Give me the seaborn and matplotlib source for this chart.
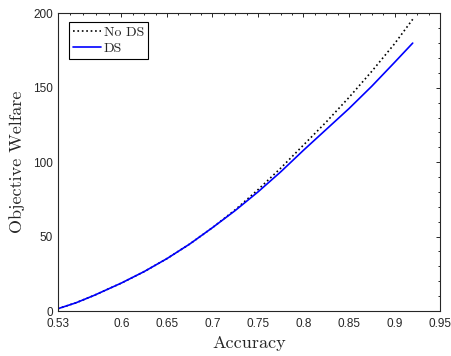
import numpy as np
import pandas as pd
import matplotlib
matplotlib.use("Agg")
import matplotlib.pyplot as plt
import seaborn as sns
from matplotlib.ticker import FixedLocator, MultipleLocator

# values
accuracy = [0.53, 0.55, 0.57, 0.60, 0.625, 0.65, 0.675, 0.70, 0.725, 0.75,
            0.775, 0.80, 0.825, 0.85, 0.875, 0.90, 0.92]
welfare_no_ds = [1.5, 5.5, 10.5, 18.8, 26.5, 35.2, 45.0, 56.0, 68.0, 81.5,
                 96.0, 111.5, 127.0, 143.5, 161.0, 179.5, 196.0]
welfare_ds = [1.5, 5.5, 10.5, 18.8, 26.5, 35.2, 45.0, 56.0, 67.5, 80.0,
              93.5, 108.0, 122.0, 136.0, 151.0, 167.0, 180.0]

xticks = [0.53, 0.6, 0.65, 0.7, 0.75, 0.8, 0.85, 0.9, 0.95]
xtick_labels = ["0.53", "0.6", "0.65", "0.7", "0.75", "0.8", "0.85", "0.9", "0.95"]
yticks = [0, 50, 100, 150, 200]

df = pd.DataFrame({
    "Accuracy": accuracy * 2,
    "Welfare": welfare_no_ds + welfare_ds,
    "Case": ["No DS"] * len(accuracy) + ["DS"] * len(accuracy),
})

sns.set_style("white")
plt.rcParams["font.family"] = ["Liberation Sans", "DejaVu Sans"]

fig = plt.figure(figsize=(4.52, 3.56), dpi=100)
ax = fig.add_axes([0.1277, 0.1264, 0.8458, 0.8362])

sns.lineplot(data=df[df["Case"] == "No DS"], x="Accuracy", y="Welfare", ax=ax,
             color="black", linestyle=":", linewidth=1.2, label="No DS")
sns.lineplot(data=df[df["Case"] == "DS"], x="Accuracy", y="Welfare", ax=ax,
             color="#0000ff", linewidth=1.2, label="DS")

ax.set_xlim(0.53, 0.95)
ax.set_ylim(0, 200)
ax.xaxis.set_major_locator(FixedLocator(xticks))
ax.set_xticklabels(xtick_labels)
minor_x = [0.544, 0.558, 0.572, 0.586] + list(np.arange(0.6125, 0.95, 0.0125))
ax.xaxis.set_minor_locator(FixedLocator(minor_x))
ax.yaxis.set_major_locator(FixedLocator(yticks))
ax.yaxis.set_minor_locator(MultipleLocator(10))

ax.tick_params(which="both", direction="in", top=True, right=True,
               colors="#262626", labelsize=8.5, width=0.7)
ax.tick_params(which="major", length=3, pad=3.5)
ax.tick_params(axis="x", which="major", pad=5)
ax.tick_params(which="minor", length=1.6)
for s in ax.spines.values():
    s.set_color("#262626")
    s.set_linewidth(0.8)

ax.set_xlabel("Accuracy", fontfamily="cmr10", fontsize=13, labelpad=4)
ax.set_ylabel("Objective Welfare", fontfamily="cmr10", fontsize=13, labelpad=6)

leg = ax.legend(loc="upper left", bbox_to_anchor=(0.0296, 0.970), borderaxespad=0,
                prop={"family": "cmr10", "size": 10}, frameon=True, fancybox=False,
                handlelength=2.0, handletextpad=0.2, borderpad=0.3, labelspacing=0.25)
leg.get_frame().set_edgecolor("black")
leg.get_frame().set_linewidth(0.8)
leg.get_frame().set_alpha(1)

fig.savefig("out.png", dpi=100)
